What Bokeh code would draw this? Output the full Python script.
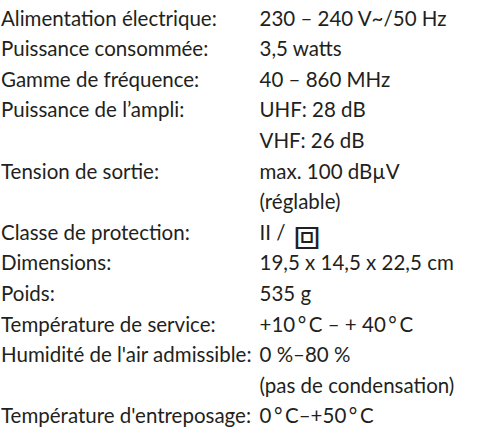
from bokeh.plotting import figure
from bokeh.models import ColumnDataSource, Range1d
from bokeh.core.properties import value
from bokeh.embed import file_html
from bokeh.resources import INLINE

labels = [
    "Alimentation électrique:",
    "Puissance consommée:",
    "Gamme de fréquence:",
    "Puissance de l\u2019ampli:",
    "",
    "Tension de sortie:",
    "",
    "Classe de protection:",
    "Dimensions:",
    "Poids:",
    "Température de service:",
    "Humidité de l'air admissible:",
    "",
    "Température d'entreposage:",
]
values = [
    "230 \u2013 240 V~/50 Hz",
    "3,5 watts",
    "40 \u2013 860 MHz",
    "UHF: 28 dB",
    "VHF: 26 dB",
    "max. 100 dBµV",
    "(réglable)",
    "II /",
    "19,5 x 14,5 x 22,5 cm",
    "535 g",
    "+10\u2009°\u2009C \u2013 + 40\u2009°\u2009C",
    "0 %\u201380 %",
    "(pas de condensation)",
    "0\u2009°\u2009C\u2013+50\u2009°\u2009C",
]
protection_symbol = "\u29c8"   # double-insulation mark (class II)
protection_row = 7

W, H = 462, 430
# data coords == window pixel coords (figure sits at the 8px page margin)
p = figure(width=W, height=H, output_backend="svg", toolbar_location=None,
           x_range=Range1d(8, 8 + W), y_range=Range1d(8 + H, 8),
           min_border=0)
p.axis.visible = False
p.grid.visible = False
p.outline_line_color = None
p.background_fill_color = "white"
p.border_fill_color = "white"

row0 = 25.0
step = 30.6
ys = [row0 + step * i for i in range(len(labels))]
label_x = 8.5
value_x = 267

font = value("Lato")
col = "#231f20"
src_l = ColumnDataSource(dict(x=[label_x] * len(labels), y=ys, t=labels))
src_v = ColumnDataSource(dict(x=[value_x] * len(values), y=ys, t=values))
for s in (src_l, src_v):
    p.text(x="x", y="y", text="t", source=s, text_font=font,
           text_font_size="20.5px", text_color=col,
           text_baseline="alphabetic", text_align="left")

src_s = ColumnDataSource(dict(x=[value_x + 33], y=[ys[protection_row] + 1.5],
                              t=[protection_symbol]))
p.text(x="x", y="y", text="t", source=src_s, text_font=value("DejaVu Sans"),
       text_font_size="44px", text_color=col,
       text_baseline="alphabetic", text_align="left")

open("out.html", "w").write(file_html(p, INLINE))
